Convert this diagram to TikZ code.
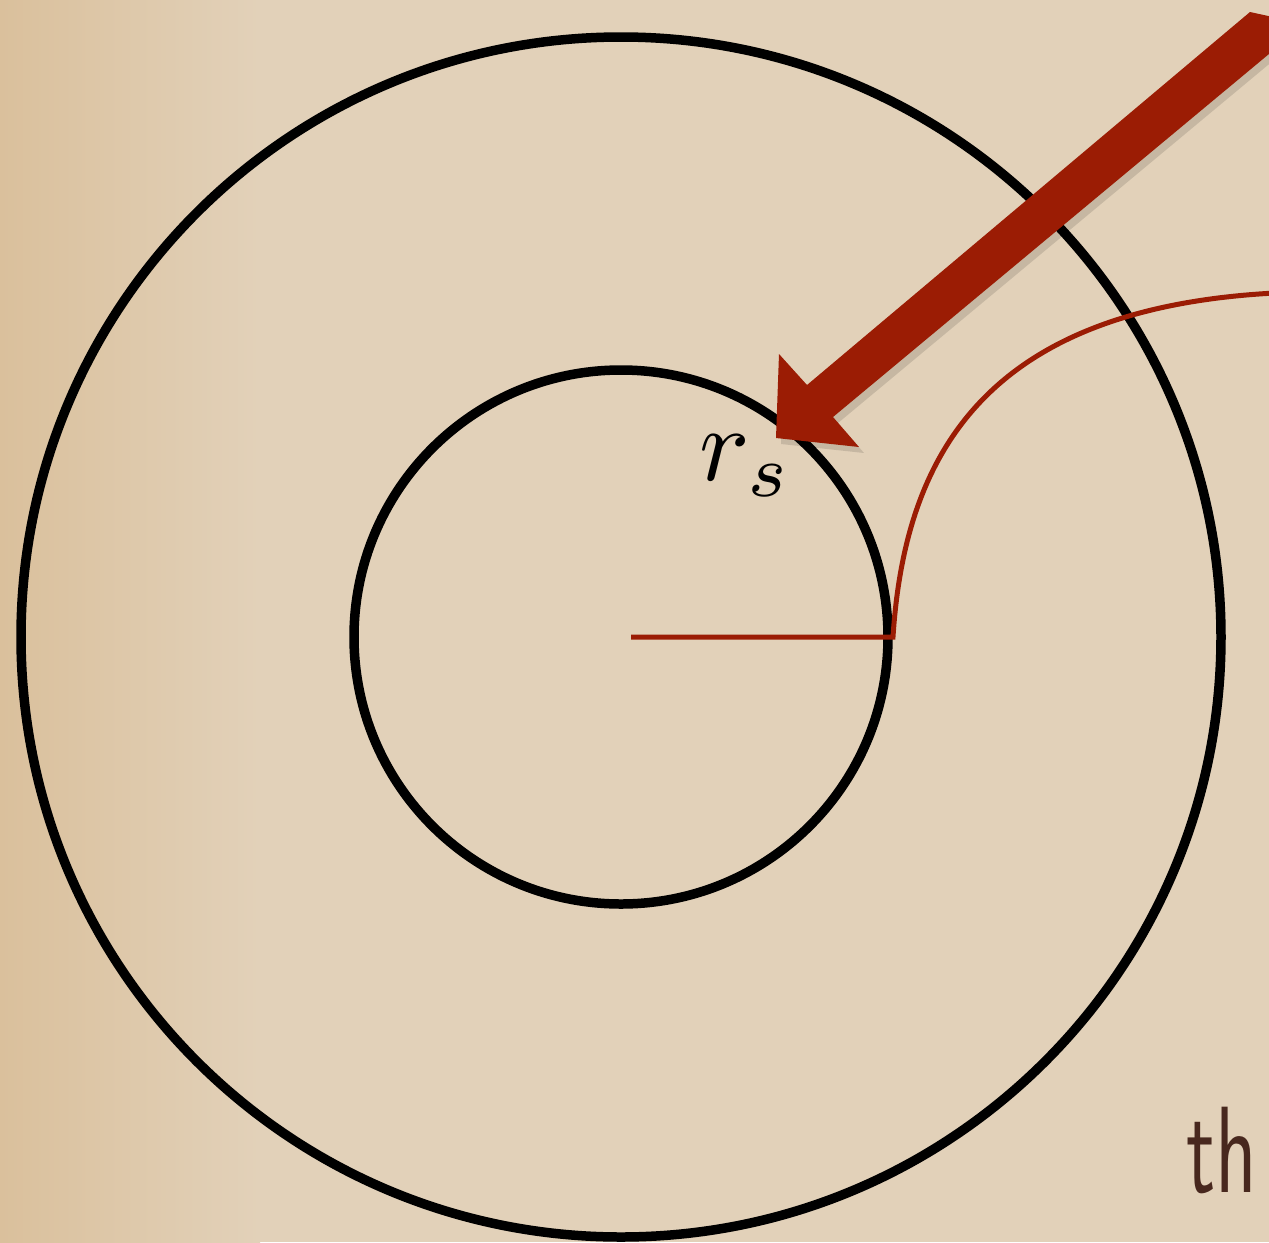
\documentclass[tikz,border=0pt]{standalone}
\usepackage{tikz}

\definecolor{paper}{RGB}{226,209,185}
\definecolor{paperdark}{RGB}{218,192,156}
\definecolor{rustred}{RGB}{155,28,4}
\definecolor{inkbrown}{RGB}{72,40,30}

\tikzset{
  ring/.style={draw=black,line width=0.19cm},
  redline/.style={draw=rustred,line width=0.1cm},
  bigarrow/.style={fill=rustred},
}

\begin{document}
\begin{tikzpicture}[x=0.02cm,y=-0.02cm]
  \useasboundingbox (0,0) rectangle (1269,1242);
  \clip (0,0) rectangle (1269,1242);

  % background
  \fill[paper] (0,0) rectangle (1269,1242);
  \shade[left color=paperdark,right color=paper] (0,0) rectangle (260,1242);

  \coordinate (o) at (621,637);
  \coordinate (start) at (631,637);
  \coordinate (rim) at (893,637);
  \coordinate (exit) at (1275,293);

  \draw[ring] (o) circle[radius=600];
  \draw[ring] (o) circle[radius=267];

  \draw[redline] (start) -- (rim) .. controls (905,450) and (990,308) .. (exit);

  % the big arrow, with a soft shadow
  \fill[black,opacity=0.12]
    (781,444) -- (784,360) -- (812,391) -- (1255,18) -- (1310,30)
    -- (838,423) -- (864,453) -- cycle;
  \fill[bigarrow]
    (776,438) -- (779,354) -- (807,385) -- (1250,12) -- (1305,24)
    -- (833,417) -- (859,447) -- cycle;

  \node[scale=6] (rs) at (746,466) {$r_s$};
  \node[anchor=base west,inner sep=0pt,text=inkbrown,xscale=4.6,yscale=7] (txt) at (1185,1192) {\sffamily th};
\end{tikzpicture}
\end{document}
